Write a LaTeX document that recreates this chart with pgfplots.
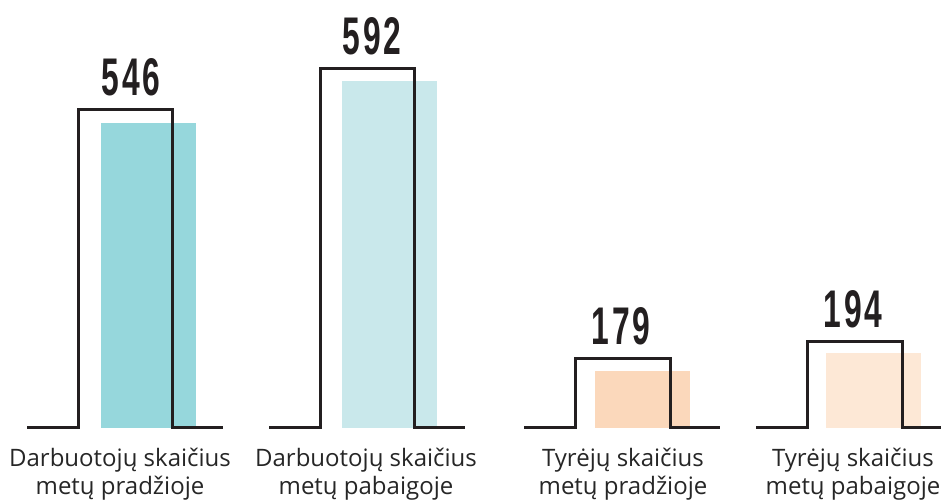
\documentclass[border=0pt]{standalone}
\usepackage{fontspec}
\setmainfont{Open Sans}
\newfontfamily\numfont[FakeStretch=0.6,LetterSpace=6]{Liberation Sans Bold}
\usepackage{pgfplots}
\pgfplotsset{compat=1.18}
\definecolor{lineblk}{HTML}{231F20}
\definecolor{cA}{HTML}{96D7DC}
\definecolor{cB}{HTML}{C9E8EB}
\definecolor{cC}{HTML}{FBD8BB}
\definecolor{cD}{HTML}{FDE8D6}
\tikzset{cat/.style={anchor=base, text=black!85, inner sep=0pt, font=\fontsize{24}{28}\selectfont}}
\begin{document}
\begin{tikzpicture}
\begin{axis}[
  width=941pt, height=502pt, scale only axis,
  xmin=0, xmax=941, ymin=-74, ymax=428,
  hide axis, clip=false,
  ybar, bar width=95, bar shift=0,
]
% filled bars (drawn heights)
\addplot[fill=cA, draw=none] coordinates {(148.5,305)};
\addplot[fill=cB, draw=none] coordinates {(389.5,347)};
\addplot[fill=cC, draw=none] coordinates {(642.5,57)};
\addplot[fill=cD, draw=none] coordinates {(873.5,75)};
% outline steps
\addplot[sharp plot, draw=lineblk, line width=3pt, fill=none, line join=miter] coordinates {(27,0)(78,0)(78,318)(172,318)(172,0)(223,0)};
\addplot[sharp plot, draw=lineblk, line width=3pt, fill=none, line join=miter] coordinates {(269,0)(320,0)(320,359)(414,359)(414,0)(465,0)};
\addplot[sharp plot, draw=lineblk, line width=3pt, fill=none, line join=miter] coordinates {(524,0)(575,0)(575,69)(670,69)(670,0)(720,0)};
\addplot[sharp plot, draw=lineblk, line width=3pt, fill=none, line join=miter] coordinates {(756,0)(807,0)(807,86)(902,86)(902,0)(941,0)};
% value labels
\addplot[draw=none, fill=none, sharp plot, mark=none,
  nodes near coords, point meta=explicit symbolic,
  every node near coord/.append style={anchor=south, yshift=14pt, font=\numfont\fontsize{53}{53}\selectfont, text=lineblk, inner sep=0pt}]
  table[meta=label] {
x y label
131 318 546
372 359 592
621 69 179
853 86 194
};
\node[cat] at (axis cs:120,-39) {Darbuotojų skaičius};
\node[cat] at (axis cs:120,-67) {metų pradžioje};
\node[cat] at (axis cs:366,-39) {Darbuotojų skaičius};
\node[cat] at (axis cs:366,-67) {metų pabaigoje};
\node[cat] at (axis cs:623,-39) {Tyrėjų skaičius};
\node[cat] at (axis cs:623,-67) {metų pradžioje};
\node[cat] at (axis cs:853,-39) {Tyrėjų skaičius};
\node[cat] at (axis cs:853,-67) {metų pabaigoje};
\end{axis}
\pgfresetboundingbox
\path[use as bounding box] (0,0) rectangle (941pt,502pt);
\end{tikzpicture}
\end{document}
